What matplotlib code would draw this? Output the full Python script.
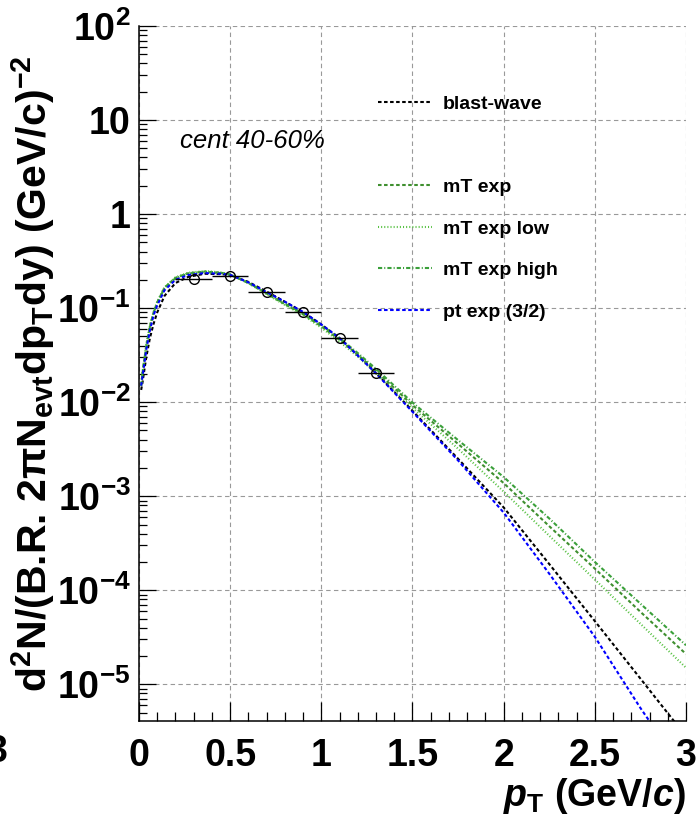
import numpy as np
import matplotlib
matplotlib.use("Agg")
import matplotlib.pyplot as plt
from matplotlib.ticker import FixedLocator, LogLocator, NullFormatter

plt.rcParams['font.family'] = ['Liberation Sans', 'DejaVu Sans']
plt.rcParams['mathtext.fontset'] = 'custom'
plt.rcParams['mathtext.rm'] = 'Liberation Sans:bold'
plt.rcParams['mathtext.bf'] = 'Liberation Sans:bold'
plt.rcParams['mathtext.it'] = 'Liberation Sans:bold:italic'

# data points (open circles, +-0.1 in pT)
pt_data = [0.3, 0.5, 0.7, 0.9, 1.1, 1.3]
y_data = [0.204, 0.221, 0.147, 0.090, 0.0476, 0.0202]
pt_err = [0.1, 0.1, 0.1, 0.1, 0.1, 0.1]

# fit curves
pt_fit = [0.012, 0.02, 0.04, 0.06, 0.08, 0.1, 0.14, 0.2, 0.27, 0.36, 0.45, 0.5,
          0.6, 0.7, 0.8, 0.9, 1.0, 1.1, 1.2, 1.3, 1.5, 1.75, 2.0, 2.25, 2.5,
          2.75, 3.0]
y_blast = [0.0135, 0.0165, 0.030, 0.048, 0.068, 0.090, 0.135, 0.185, 0.215,
           0.232, 0.230, 0.225, 0.190, 0.150, 0.117, 0.091, 0.067, 0.048,
           0.0315, 0.0205, 0.0081, 2.5e-3, 7.6e-4, 1.9e-4, 4.7e-5, 1.15e-5,
           2.8e-6]
y_mt = [0.015, 0.021, 0.040, 0.064, 0.090, 0.115, 0.165, 0.210, 0.235, 0.245,
        0.238, 0.228, 0.185, 0.143, 0.110, 0.086, 0.064, 0.046, 0.032, 0.0215,
        0.0093, 3.6e-3, 1.38e-3, 4.8e-4, 1.7e-4, 5.9e-5, 2.1e-5]
y_mt_low = [0.015, 0.021, 0.041, 0.065, 0.091, 0.117, 0.167, 0.213, 0.238,
            0.248, 0.240, 0.229, 0.184, 0.141, 0.108, 0.084, 0.062, 0.044,
            0.0305, 0.0203, 0.0087, 3.2e-3, 1.12e-3, 3.8e-4, 1.3e-4, 4.4e-5,
            1.5e-5]
y_mt_high = [0.015, 0.021, 0.039, 0.063, 0.089, 0.114, 0.163, 0.208, 0.233,
             0.242, 0.236, 0.227, 0.186, 0.145, 0.112, 0.088, 0.066, 0.048,
             0.0333, 0.0226, 0.0099, 3.95e-3, 1.6e-3, 5.8e-4, 2.0e-4, 7.2e-5,
             2.6e-5]
y_ptexp = [0.015, 0.019, 0.036, 0.058, 0.084, 0.107, 0.155, 0.200, 0.225,
           0.236, 0.232, 0.226, 0.188, 0.148, 0.117, 0.091, 0.067, 0.048,
           0.0313, 0.0202, 0.0079, 2.4e-3, 6.7e-4, 1.5e-4, 3.2e-5, 5.6e-6,
           1.1e-6]

xticks = [0, 0.5, 1, 1.5, 2, 2.5, 3]
xtick_labels = ['0', '0.5', '1', '1.5', '2', '2.5', '3']
yticks = [1e-5, 1e-4, 1e-3, 1e-2, 1e-1, 1, 10, 100]
ytick_labels = [r'10$^{\mathbf{-5}}$', r'10$^{\mathbf{-4}}$', r'10$^{\mathbf{-3}}$',
                r'10$^{\mathbf{-2}}$', r'10$^{\mathbf{-1}}$', '1', '10',
                r'10$^{\mathbf{2}}$']

fig = plt.figure(figsize=(6.98, 8.21), dpi=100)
ax = fig.add_axes([0.1991, 0.1218, 0.7837, 0.8465])

lw = 1.5
ax.plot(pt_fit, y_blast, color='black', lw=lw, ls=(0, (1.7, 1.2)), label='blast-wave')
ax.plot([], [], ls='none', label=' ')
ax.plot(pt_fit, y_mt, color='#3f8f2f', lw=lw, ls=(0, (1.7, 1.2)), label='mT exp')
ax.plot(pt_fit, y_mt_low, color='#55c040', lw=lw, ls=(0, (0.5, 1.0)), label='mT exp low')
ax.plot(pt_fit, y_mt_high, color='#3aa03a', lw=lw, ls=(0, (2.0, 1.0, 0.5, 1.0)), label='mT exp high')
ax.plot(pt_fit, y_ptexp, color='#0000ff', lw=lw, ls=(0, (1.7, 1.2)), label='pt exp (3/2)')

ax.errorbar(pt_data, y_data, xerr=pt_err, fmt='o', mfc='none', mec='black',
            ecolor='black', ms=7, mew=1.0, elinewidth=1.0, capsize=0, zorder=5)

ax.set_yscale('log')
ax.set_xlim(0, 3)
ax.set_ylim(4.07e-6, 100)

ax.xaxis.set_major_locator(FixedLocator(xticks))
ax.set_xticklabels(xtick_labels)
ax.xaxis.set_minor_locator(FixedLocator(np.arange(0, 3.01, 0.1)))
ax.yaxis.set_major_locator(FixedLocator(yticks))
ax.set_yticklabels(ytick_labels)
ax.yaxis.set_minor_locator(LogLocator(base=10, subs=np.arange(2, 10), numticks=20))
ax.yaxis.set_minor_formatter(NullFormatter())

for lab in ax.get_xticklabels() + ax.get_yticklabels():
    lab.set_fontsize(27)
    lab.set_fontweight('bold')

ax.tick_params(axis='x', which='major', direction='in', length=14, width=0.9, pad=12)
ax.tick_params(axis='x', which='minor', direction='in', length=6.5, width=0.9)
ax.tick_params(axis='y', which='major', direction='in', length=12, width=0.9, pad=6)
ax.tick_params(axis='y', which='minor', direction='in', length=6, width=0.9)

ax.grid(True, which='major', color='#999999', lw=0.8, ls=(0, (4, 3)))
ax.spines['top'].set_visible(False)
ax.spines['right'].set_visible(False)
ax.spines['left'].set_linewidth(1.1)
ax.spines['bottom'].set_linewidth(1.1)

ax.set_ylabel(r'd$^{2}$N/(B.R. 2πN$_{\mathrm{evt}}$dp$_{\mathrm{T}}$dy) (GeV/c)$^{-2}$',
              fontsize=29.5, fontweight='bold', labelpad=0)
ax.set_xlabel(r'$\mathit{p}_{\mathrm{T}}$ (GeV/$\mathit{c}$)', fontsize=27,
              fontweight='bold', loc='right', labelpad=2)

ax.text(0.075, 0.824, 'cent 40-60%', transform=ax.transAxes, fontsize=18.5,
        style='italic', va='baseline')

ax.legend(loc='upper left', bbox_to_anchor=(0.437, 0.90), frameon=False,
          handlelength=2.8, handletextpad=0.55, labelspacing=1.23,
          borderpad=0, borderaxespad=0, prop={'weight': 'bold', 'size': 14})

# clipped tick label of the neighbouring pad
fig.text(7 / 698, 1 - 752 / 821, '3', fontsize=27, fontweight='bold',
         ha='right', va='center')

fig.savefig('out.png', dpi=100)
